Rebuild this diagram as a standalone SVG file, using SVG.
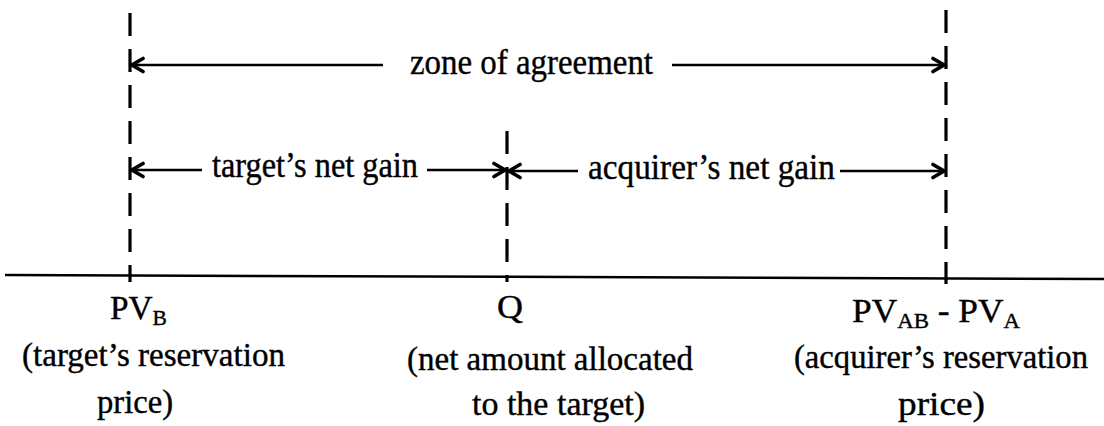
<svg xmlns="http://www.w3.org/2000/svg" width="1104" height="426" viewBox="0 0 1104 426">
<style>
.bg{fill:#fff}
.dash{stroke:#000;stroke-width:3.2;stroke-dasharray:23 13;fill:none}
.axis{stroke:#000;stroke-width:2.5;fill:none}
.arr{stroke:#000;stroke-width:2.6;fill:none;marker-end:url(#ah)}
.t{font-family:"Liberation Serif","Times New Roman",serif;font-size:36px;fill:#000;stroke:#000;stroke-width:0.4}
.b{font-size:34px}
.s{font-size:22px}
</style>
<defs>
<marker id="ah" viewBox="0 0 16 18" refX="14" refY="9" markerWidth="16" markerHeight="18" markerUnits="userSpaceOnUse" orient="auto">
<path d="M3,2.5 L14,9 L3,15.5" fill="none" stroke="#000" stroke-width="3.6" stroke-linejoin="miter" stroke-linecap="round"/>
</marker>
</defs>
<rect class="bg" x="0" y="0" width="1104" height="426"/>
<g id="connectors">
<line class="axis" x1="5" y1="275" x2="1104" y2="279"/>
<line class="dash" x1="130" y1="13" x2="130" y2="282"/>
<line class="dash" x1="507" y1="131" x2="507" y2="282"/>
<line class="dash" x1="946" y1="10" x2="946" y2="284"/>
<line class="arr" x1="383" y1="65" x2="132" y2="65"/>
<line class="arr" x1="672" y1="65" x2="944" y2="65"/>
<line class="arr" x1="202" y1="170" x2="132" y2="170"/>
<line class="arr" x1="427" y1="170" x2="505" y2="170"/>
<line class="arr" x1="578" y1="171" x2="509" y2="171"/>
<line class="arr" x1="840" y1="171" x2="944" y2="171"/>
</g>
<g id="zone-label"><text class="t" x="410" y="74" textLength="243" lengthAdjust="spacingAndGlyphs">zone of agreement</text></g>
<g id="target-gain"><text class="t" x="212" y="177" textLength="206" lengthAdjust="spacingAndGlyphs">target’s net gain</text></g>
<g id="acquirer-gain"><text class="t" x="588" y="179" textLength="247" lengthAdjust="spacingAndGlyphs">acquirer’s net gain</text></g>
<g id="node-pvb">
<text class="t b" x="110" y="319" textLength="57" lengthAdjust="spacingAndGlyphs">PV<tspan class="s" dy="6">B</tspan></text>
<text class="t b" x="22" y="366" textLength="263" lengthAdjust="spacingAndGlyphs">(target’s reservation</text>
<text class="t b" x="97" y="413" textLength="76" lengthAdjust="spacingAndGlyphs">price)</text>
</g>
<g id="node-q">
<text class="t b" x="497" y="318" textLength="26" lengthAdjust="spacingAndGlyphs">Q</text>
<text class="t b" x="407" y="370" textLength="286" lengthAdjust="spacingAndGlyphs">(net amount allocated</text>
<text class="t b" x="472" y="415" textLength="173" lengthAdjust="spacingAndGlyphs">to the target)</text>
</g>
<g id="node-pvab">
<text class="t b" x="852" y="322" textLength="168" lengthAdjust="spacingAndGlyphs">PV<tspan class="s" dy="6">AB</tspan><tspan dy="-6"> - PV</tspan><tspan class="s" dy="6">A</tspan></text>
<text class="t b" x="794" y="368" textLength="294" lengthAdjust="spacingAndGlyphs">(acquirer’s reservation</text>
<text class="t b" x="898" y="415" textLength="87" lengthAdjust="spacingAndGlyphs">price)</text>
</g>
</svg>
